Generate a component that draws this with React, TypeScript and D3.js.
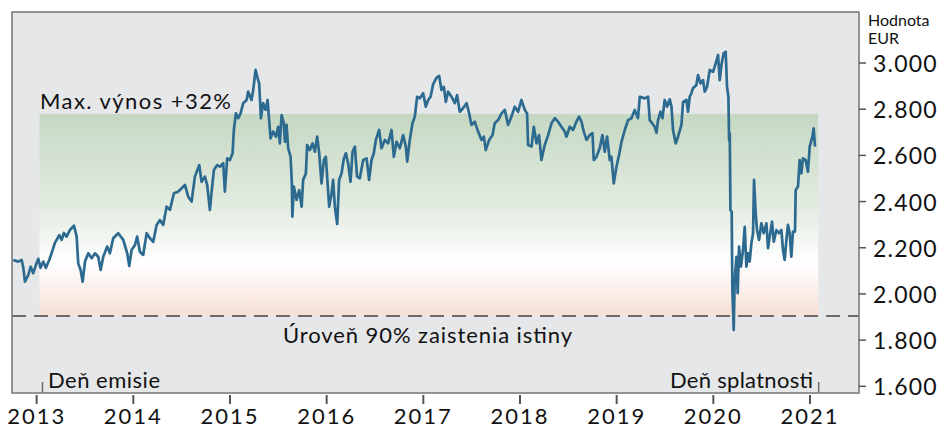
import * as d3 from 'd3';

// Decimal year of each reading
const dates = [
  2012.758, 2012.81, 2012.845, 2012.862, 2012.879, 2012.913, 2012.938, 2012.965, 2012.993, 2013.017,
  2013.041, 2013.068, 2013.096, 2013.13, 2013.155, 2013.189, 2013.234, 2013.259, 2013.282, 2013.31,
  2013.344, 2013.386, 2013.414, 2013.43, 2013.455, 2013.476, 2013.5, 2013.534, 2013.569, 2013.603,
  2013.637, 2013.662, 2013.689, 2013.73, 2013.758, 2013.792, 2013.844, 2013.896, 2013.937, 2013.958,
  2013.982, 2014.017, 2014.04, 2014.068, 2014.102, 2014.138, 2014.172, 2014.206, 2014.241, 2014.275,
  2014.309, 2014.344, 2014.379, 2014.42, 2014.464, 2014.5, 2014.534, 2014.568, 2014.603, 2014.637,
  2014.682, 2014.706, 2014.74, 2014.764, 2014.792, 2014.81, 2014.834, 2014.868, 2014.896, 2014.93,
  2014.947, 2014.971, 2014.999, 2015.027, 2015.04, 2015.061, 2015.085, 2015.11, 2015.137, 2015.172,
  2015.188, 2015.223, 2015.24, 2015.265, 2015.281, 2015.302, 2015.32, 2015.343, 2015.368, 2015.389,
  2015.405, 2015.42, 2015.447, 2015.475, 2015.499, 2015.516, 2015.534, 2015.557, 2015.568, 2015.585,
  2015.602, 2015.627, 2015.64, 2015.645, 2015.661, 2015.689, 2015.716, 2015.741, 2015.757, 2015.785,
  2015.798, 2015.826, 2015.854, 2015.878, 2015.902, 2015.923, 2015.947, 2015.971, 2015.992, 2016.005,
  2016.026, 2016.051, 2016.067, 2016.085, 2016.109, 2016.129, 2016.154, 2016.178, 2016.199, 2016.222,
  2016.247, 2016.268, 2016.292, 2016.315, 2016.343, 2016.378, 2016.413, 2016.439, 2016.464, 2016.488,
  2016.509, 2016.543, 2016.568, 2016.602, 2016.636, 2016.671, 2016.695, 2016.723, 2016.757, 2016.791,
  2016.819, 2016.833, 2016.86, 2016.888, 2016.912, 2016.936, 2016.964, 2016.998, 2017.026, 2017.05,
  2017.075, 2017.102, 2017.137, 2017.164, 2017.188, 2017.212, 2017.233, 2017.256, 2017.292, 2017.326,
  2017.349, 2017.377, 2017.411, 2017.447, 2017.474, 2017.498, 2017.532, 2017.567, 2017.602, 2017.626,
  2017.646, 2017.681, 2017.716, 2017.739, 2017.774, 2017.809, 2017.843, 2017.877, 2017.912, 2017.946,
  2017.981, 2018.015, 2018.05, 2018.073, 2018.084, 2018.119, 2018.143, 2018.171, 2018.197, 2018.222,
  2018.256, 2018.291, 2018.326, 2018.36, 2018.394, 2018.429, 2018.463, 2018.481, 2018.515, 2018.549,
  2018.584, 2018.611, 2018.636, 2018.66, 2018.688, 2018.722, 2018.75, 2018.763, 2018.791, 2018.825,
  2018.853, 2018.877, 2018.901, 2018.929, 2018.946, 2018.97, 2018.998, 2019.025, 2019.05, 2019.084,
  2019.118, 2019.153, 2019.187, 2019.221, 2019.239, 2019.291, 2019.325, 2019.342, 2019.394, 2019.412,
  2019.428, 2019.453, 2019.474, 2019.497, 2019.521, 2019.549, 2019.567, 2019.583, 2019.611, 2019.635,
  2019.67, 2019.687, 2019.722, 2019.738, 2019.756, 2019.773, 2019.79, 2019.825, 2019.842, 2019.867,
  2019.894, 2019.911, 2019.935, 2019.963, 2019.997, 2020.025, 2020.049, 2020.066, 2020.084, 2020.107,
  2020.128, 2020.142, 2020.156, 2020.163, 2020.17, 2020.177, 2020.19, 2020.197, 2020.211, 2020.221,
  2020.239, 2020.252, 2020.266, 2020.286, 2020.307, 2020.325, 2020.342, 2020.359, 2020.376, 2020.394,
  2020.411, 2020.421, 2020.438, 2020.452, 2020.473, 2020.497, 2020.521, 2020.549, 2020.566, 2020.583,
  2020.607, 2020.625, 2020.653, 2020.68, 2020.704, 2020.721, 2020.738, 2020.756, 2020.772, 2020.79,
  2020.807, 2020.824, 2020.845, 2020.852, 2020.876, 2020.893, 2020.911, 2020.927, 2020.955, 2020.979,
  2020.997, 2021.025, 2021.038, 2021.052,
];

// Value in EUR
const values = [
  2.147, 2.14, 2.147, 2.113, 2.053, 2.082, 2.118, 2.09, 2.126, 2.152,
  2.113, 2.14, 2.113, 2.147, 2.177, 2.221, 2.255, 2.234, 2.264, 2.248,
  2.277, 2.296, 2.248, 2.133, 2.104, 2.053, 2.14, 2.176, 2.155, 2.176,
  2.161, 2.104, 2.161, 2.205, 2.176, 2.241, 2.263, 2.234, 2.176, 2.121,
  2.19, 2.212, 2.248, 2.183, 2.169, 2.263, 2.241, 2.226, 2.299, 2.32,
  2.299, 2.378, 2.364, 2.436, 2.443, 2.458, 2.472, 2.421, 2.4, 2.508,
  2.558, 2.486, 2.508, 2.472, 2.364, 2.443, 2.537, 2.558, 2.551, 2.566,
  2.443, 2.587, 2.58, 2.609, 2.71, 2.782, 2.761, 2.782, 2.826, 2.84,
  2.876, 2.84, 2.883, 2.97, 2.941, 2.912, 2.761, 2.826, 2.797, 2.84,
  2.753, 2.674, 2.703, 2.681, 2.724, 2.652, 2.775, 2.739, 2.659, 2.732,
  2.631, 2.594, 2.479, 2.335, 2.465, 2.407, 2.45, 2.378, 2.494, 2.522,
  2.645, 2.623, 2.652, 2.616, 2.681, 2.609, 2.479, 2.58, 2.594, 2.508,
  2.378, 2.436, 2.494, 2.378, 2.303, 2.494, 2.522, 2.587, 2.609, 2.566,
  2.486, 2.616, 2.638, 2.508, 2.501, 2.58, 2.587, 2.494, 2.58, 2.609,
  2.667, 2.71, 2.631, 2.667, 2.652, 2.71, 2.594, 2.659, 2.631, 2.688,
  2.638, 2.573, 2.667, 2.739, 2.768, 2.854, 2.847, 2.869, 2.811, 2.84,
  2.854, 2.909, 2.937, 2.944, 2.883, 2.897, 2.832, 2.876, 2.854, 2.826,
  2.861, 2.789, 2.804, 2.826, 2.782, 2.732, 2.746, 2.703, 2.667, 2.681,
  2.623, 2.667, 2.688, 2.739, 2.753, 2.782, 2.797, 2.732, 2.768, 2.811,
  2.789, 2.84, 2.797, 2.782, 2.645, 2.638, 2.724, 2.652, 2.688, 2.58,
  2.645, 2.688, 2.739, 2.761, 2.746, 2.724, 2.703, 2.681, 2.724, 2.71,
  2.746, 2.768, 2.746, 2.703, 2.667, 2.688, 2.696, 2.58, 2.594, 2.631,
  2.688, 2.616, 2.681, 2.58, 2.594, 2.479, 2.551, 2.602, 2.659, 2.71,
  2.753, 2.761, 2.797, 2.761, 2.854, 2.847, 2.854, 2.753, 2.724, 2.698,
  2.753, 2.789, 2.761, 2.84, 2.811, 2.843, 2.811, 2.71, 2.652, 2.681,
  2.732, 2.832, 2.84, 2.789, 2.854, 2.869, 2.891, 2.905, 2.948, 2.912,
  2.926, 2.876, 2.897, 2.97, 2.962, 2.999, 3.035, 2.926, 2.991, 3.042,
  3.049, 2.897, 2.854, 2.667, 2.696, 2.364, 2.356, 2.017, 1.844, 2.061,
  2.161, 2.003, 2.205, 2.118, 2.19, 2.291, 2.118, 2.176, 2.14, 2.22,
  2.263, 2.494, 2.349, 2.277, 2.234, 2.306, 2.263, 2.306, 2.198, 2.248,
  2.313, 2.226, 2.277, 2.263, 2.277, 2.19, 2.147, 2.234, 2.299, 2.263,
  2.161, 2.27, 2.27, 2.45, 2.465, 2.58, 2.522, 2.587, 2.58, 2.529,
  2.638, 2.681, 2.717, 2.638,
];

const yTicks = [1.6, 1.8, 2.0, 2.2, 2.4, 2.6, 2.8, 3.0];
const yearTicks = [2013, 2014, 2015, 2016, 2017, 2018, 2019, 2020, 2021];

const issueDate = 2013.06;
const maturityDate = 2021.09;
const bandStart = 2013.03;
const bandEnd = 2021.085;
const maxLevel = 2.78;
const protectionLevel = 1.905;

const W = 942;
const H = 429;
const plot = { left: 12, right: 859, top: 12, bottom: 393 };
const font = 'Lato, "Noto Sans", sans-serif';

const fmt = d3.formatLocale({ decimal: ',', thousands: '.', grouping: [3], currency: ['', ''] }).format(',');

export default function App() {
  const x = d3.scaleLinear().domain([2012.745, 2021.507]).range([plot.left, plot.right]);
  const y = d3.scaleLinear().domain([1.571, 3.221]).range([plot.bottom, plot.top]);

  const points = dates.map((d, i) => [d, values[i]] as [number, number]);
  const line = d3.line<[number, number]>()
    .x((d) => x(d[0]))
    .y((d) => y(d[1]));

  return (
    <svg
      width={W}
      height={H}
      style={{ position: 'fixed', left: 0, top: 0, background: '#fff' }}
      fontFamily={font}
    >
      <defs>
        <linearGradient id="band" x1="0" y1="0" x2="0" y2="1">
          <stop offset="0" stopColor="#c5d8c3" />
          <stop offset="0.45" stopColor="#e2ebe0" />
          <stop offset="0.74" stopColor="#ffffff" />
          <stop offset="1" stopColor="#f6dfd5" />
        </linearGradient>
      </defs>

      <rect x={plot.left} y={plot.top} width={plot.right - plot.left} height={plot.bottom - plot.top} fill="#e6e7e9" />

      {/* max yield / protection band */}
      <rect
        x={x(bandStart)}
        y={y(maxLevel)}
        width={x(bandEnd) - x(bandStart)}
        height={y(protectionLevel) - y(maxLevel)}
        fill="url(#band)"
      />

      <line
        x1={plot.left}
        x2={plot.right}
        y1={y(protectionLevel)}
        y2={y(protectionLevel)}
        stroke="#6b6b6b"
        strokeWidth={2}
        strokeDasharray="14 8"
      />

      <path d={line(points) ?? ''} fill="none" stroke="#2d6a8f" strokeWidth={2.7} strokeLinejoin="round" />

      {/* event markers */}
      {[issueDate, maturityDate].map((d) => (
        <line key={d} x1={x(d)} x2={x(d)} y1={plot.bottom - 11} y2={plot.bottom} stroke="#6b6b6b" strokeWidth={1.5} />
      ))}

      <rect
        x={plot.left}
        y={plot.top}
        width={plot.right - plot.left}
        height={plot.bottom - plot.top}
        fill="none"
        stroke="#757575"
        strokeWidth={1.5}
      />

      <text x={40} y={109} fontSize={22} fill="#111" textLength={191} lengthAdjust="spacing">Max. výnos +32%</text>
      <text x={283} y={343} fontSize={22} fill="#111" textLength={289} lengthAdjust="spacing">Úroveň 90% zaistenia istiny</text>
      <text x={48} y={388} fontSize={22} fill="#111" textLength={112} lengthAdjust="spacing">Deň emisie</text>
      <text x={670} y={388} fontSize={22} fill="#111" textLength={143} lengthAdjust="spacing">Deň splatnosti</text>

      {/* right value axis */}
      <text x={868} y={26} fontSize={16} fill="#111">Hodnota</text>
      <text x={868} y={44} fontSize={16} fill="#111">EUR</text>
      {yTicks.map((t) => (
        <g key={t} transform={`translate(0,${y(t)})`}>
          <line x1={plot.right} x2={plot.right + 7} stroke="#555" strokeWidth={1.5} />
          <text x={873} y={9} fontSize={23} fill="#111" letterSpacing={1.2}>
            {fmt(Math.round(t * 1000))}
          </text>
        </g>
      ))}

      {/* year axis */}
      {yearTicks.map((t) => (
        <g key={t} transform={`translate(${x(t)},0)`}>
          <line y1={395} y2={404} stroke="#555" strokeWidth={2} />
          <text y={424} fontSize={22} fill="#111" textAnchor="middle" letterSpacing={2}>{t}</text>
        </g>
      ))}
    </svg>
  );
}
